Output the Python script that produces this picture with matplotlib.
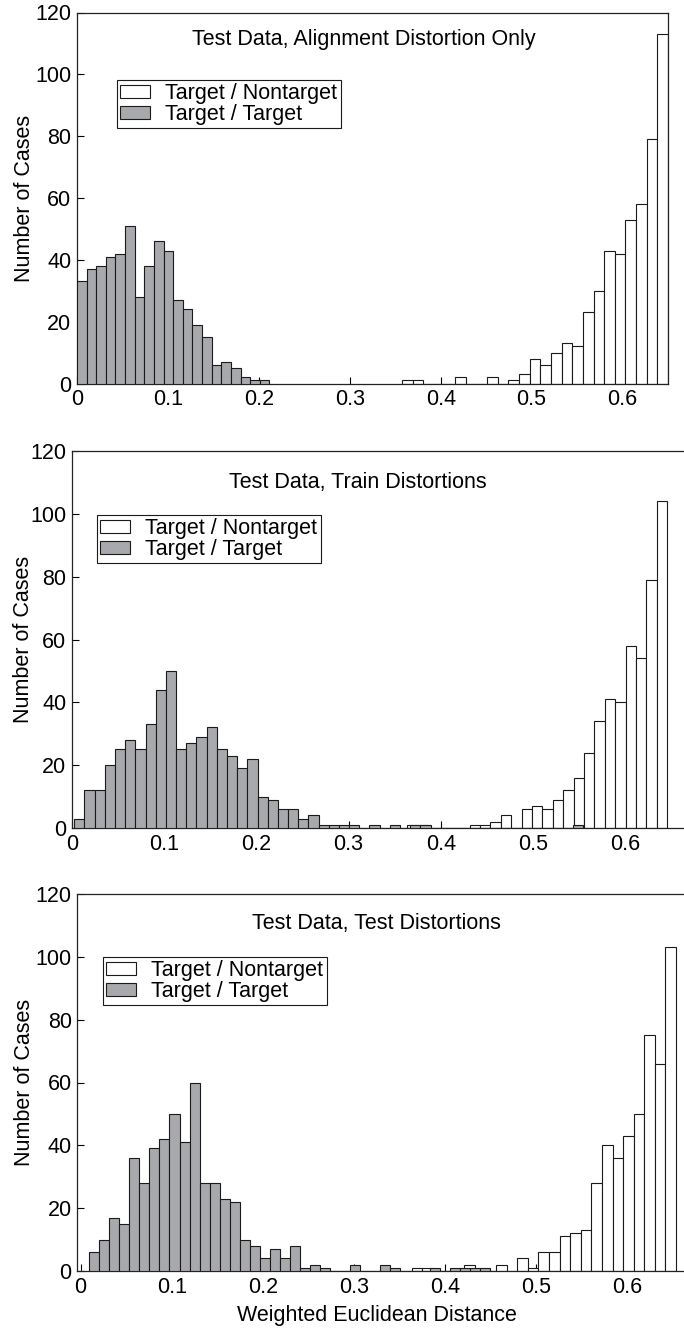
import numpy as np
import matplotlib
matplotlib.use("Agg")
import matplotlib.pyplot as plt
from matplotlib.patches import Patch

plt.rcParams['font.family'] = ['Liberation Sans', 'DejaVu Sans']

# ---------------- data ----------------
series_labels = ["Target / Nontarget", "Target / Target"]
panel_titles = ["Test Data, Alignment Distortion Only",
                "Test Data, Train Distortions",
                "Test Data, Test Distortions"]
x_label = "Weighted Euclidean Distance"
y_label = "Number of Cases"
x_ticks = [0, 0.1, 0.2, 0.3, 0.4, 0.5, 0.6]
x_tick_labels = ["0", "0.1", "0.2", "0.3", "0.4", "0.5", "0.6"]
y_ticks = [0, 20, 40, 60, 80, 100, 120]

# Panel 1 : Alignment distortion only
p1_tt_start, p1_tt_width = 0.0, 0.01058
p1_tt_counts = [33, 37, 38, 41, 42, 51, 28, 38, 46, 43, 27, 24, 19, 15, 6, 7, 5, 2, 1, 1]
p1_tn_start, p1_tn_width = 0.3575, 0.0117
p1_tn_counts = [1, 1, 0, 0, 0, 2, 0, 0, 2, 0, 1, 3, 8, 6, 10, 13, 12, 23, 30, 43, 42, 53, 58, 79, 113]

# Panel 2 : Train distortions
p2_tt_start, p2_tt_width = 0.0025, 0.01104
p2_tt_counts = [3, 12, 12, 20, 25, 28, 25, 33, 44, 50, 25, 27, 29, 32, 25, 23, 19, 22, 10, 9,
                6, 6, 3, 4, 1, 1, 1, 1, 0, 1, 0, 1, 0, 1, 1, 0, 0, 0, 0, 0,
                0, 0, 0, 0, 0, 0, 0, 0, 0, 1]
p2_tn_start, p2_tn_width = 0.3635, 0.01128
p2_tn_counts = [1, 1, 0, 0, 0, 0, 1, 1, 2, 4, 0, 6, 7, 6, 9, 12, 16, 24, 34, 41, 40, 58, 54, 79, 104]

# Panel 3 : Test distortions
p3_tt_start, p3_tt_width = 0.0095, 0.011
p3_tt_counts = [6, 10, 17, 15, 36, 28, 39, 42, 50, 41, 60, 28, 28, 23, 22, 10, 8, 4, 7, 4,
                8, 1, 2, 1, 0, 0, 2, 0, 0, 2, 1, 0, 0, 0, 1, 0, 1, 1, 1, 1]
p3_tn_start, p3_tn_width = 0.363, 0.0116
p3_tn_counts = [1, 1, 0, 0, 0, 2, 0, 0, 2, 0, 4, 1, 6, 6, 11, 12, 13, 28, 40, 36, 43, 50, 75, 66, 103]

panels = [
    (p1_tt_start, p1_tt_width, p1_tt_counts, p1_tn_start, p1_tn_width, p1_tn_counts),
    (p2_tt_start, p2_tt_width, p2_tt_counts, p2_tn_start, p2_tn_width, p2_tn_counts),
    (p3_tt_start, p3_tt_width, p3_tt_counts, p3_tn_start, p3_tn_width, p3_tn_counts),
]

# ---------------- layout (pixels) ----------------
W, H = 684, 1330
gray = "#a8a9ad"
fs = 15.5

# left, right, top, bottom in pixels ; xlim
axes_px = [(77, 668, 12.5, 383.5, (0.0, 0.65)),
           (72, 686, 451, 828, (0.0, 0.666)),
           (77.3, 686, 894, 1271, (-0.0036, 0.664))]
title_px = [(363.5, 40), (357.5, 482), (376, 923)]
legend_px = [(117, 80), (97, 515), (103, 957)]
ylabel_x_px = [25, 23.5, 25]
xlabel_px = (376.5, 1315)

fig = plt.figure(figsize=(W / 100, H / 100), dpi=100)

for i, (l, r, t, b, xl) in enumerate(axes_px):
    ax = fig.add_axes([l / W, 1 - b / H, (r - l) / W, (b - t) / H])
    tt_s, tt_w, tt_c, tn_s, tn_w, tn_c = panels[i]
    tt_edges = tt_s + tt_w * np.arange(len(tt_c))
    tn_edges = tn_s + tn_w * np.arange(len(tn_c))
    ax.bar(tn_edges, tn_c, width=tn_w, align='edge', facecolor='white',
           edgecolor='#1a1a1a', linewidth=0.8, zorder=2)
    ax.bar(tt_edges, tt_c, width=tt_w, align='edge', facecolor=gray,
           edgecolor='#1a1a1a', linewidth=0.8, zorder=3)
    ax.set_xlim(*xl)
    ax.set_ylim(0, 120)
    ax.set_xticks(x_ticks)
    ax.set_xticklabels(x_tick_labels)
    ax.set_yticks(y_ticks)
    ax.tick_params(direction='in', length=5, width=0.8, labelsize=fs,
                   top=False, right=False, pad=4)
    for sp in ax.spines.values():
        sp.set_linewidth(0.9)
        sp.set_color('#222222')

    fig.text(ylabel_x_px[i] / W, 1 - (t + b) / 2 / H, y_label, rotation=90,
             ha='center', va='center', fontsize=fs)

    tx, ty = title_px[i]
    fig.text(tx / W, 1 - ty / H, panel_titles[i], ha='center', va='center',
             fontsize=fs)

    lx, ly = legend_px[i]
    handles = [Patch(facecolor='white', edgecolor='#1a1a1a', linewidth=0.8),
               Patch(facecolor=gray, edgecolor='#1a1a1a', linewidth=0.8)]
    leg = ax.legend(handles, series_labels, loc='upper left',
                    bbox_to_anchor=(lx / W, 1 - ly / H),
                    bbox_transform=fig.transFigure, fontsize=fs,
                    frameon=True, fancybox=False, shadow=False,
                    borderpad=0.15, labelspacing=0.0, handlelength=1.4,
                    handleheight=0.5, handletextpad=0.7, borderaxespad=0.0)
    leg.get_frame().set_edgecolor('#1a1a1a')
    leg.get_frame().set_linewidth(0.8)
    leg.get_frame().set_alpha(1)

fig.text(xlabel_px[0] / W, 1 - xlabel_px[1] / H, x_label, ha='center',
         va='center', fontsize=fs)

fig.savefig("out.png", dpi=100)
